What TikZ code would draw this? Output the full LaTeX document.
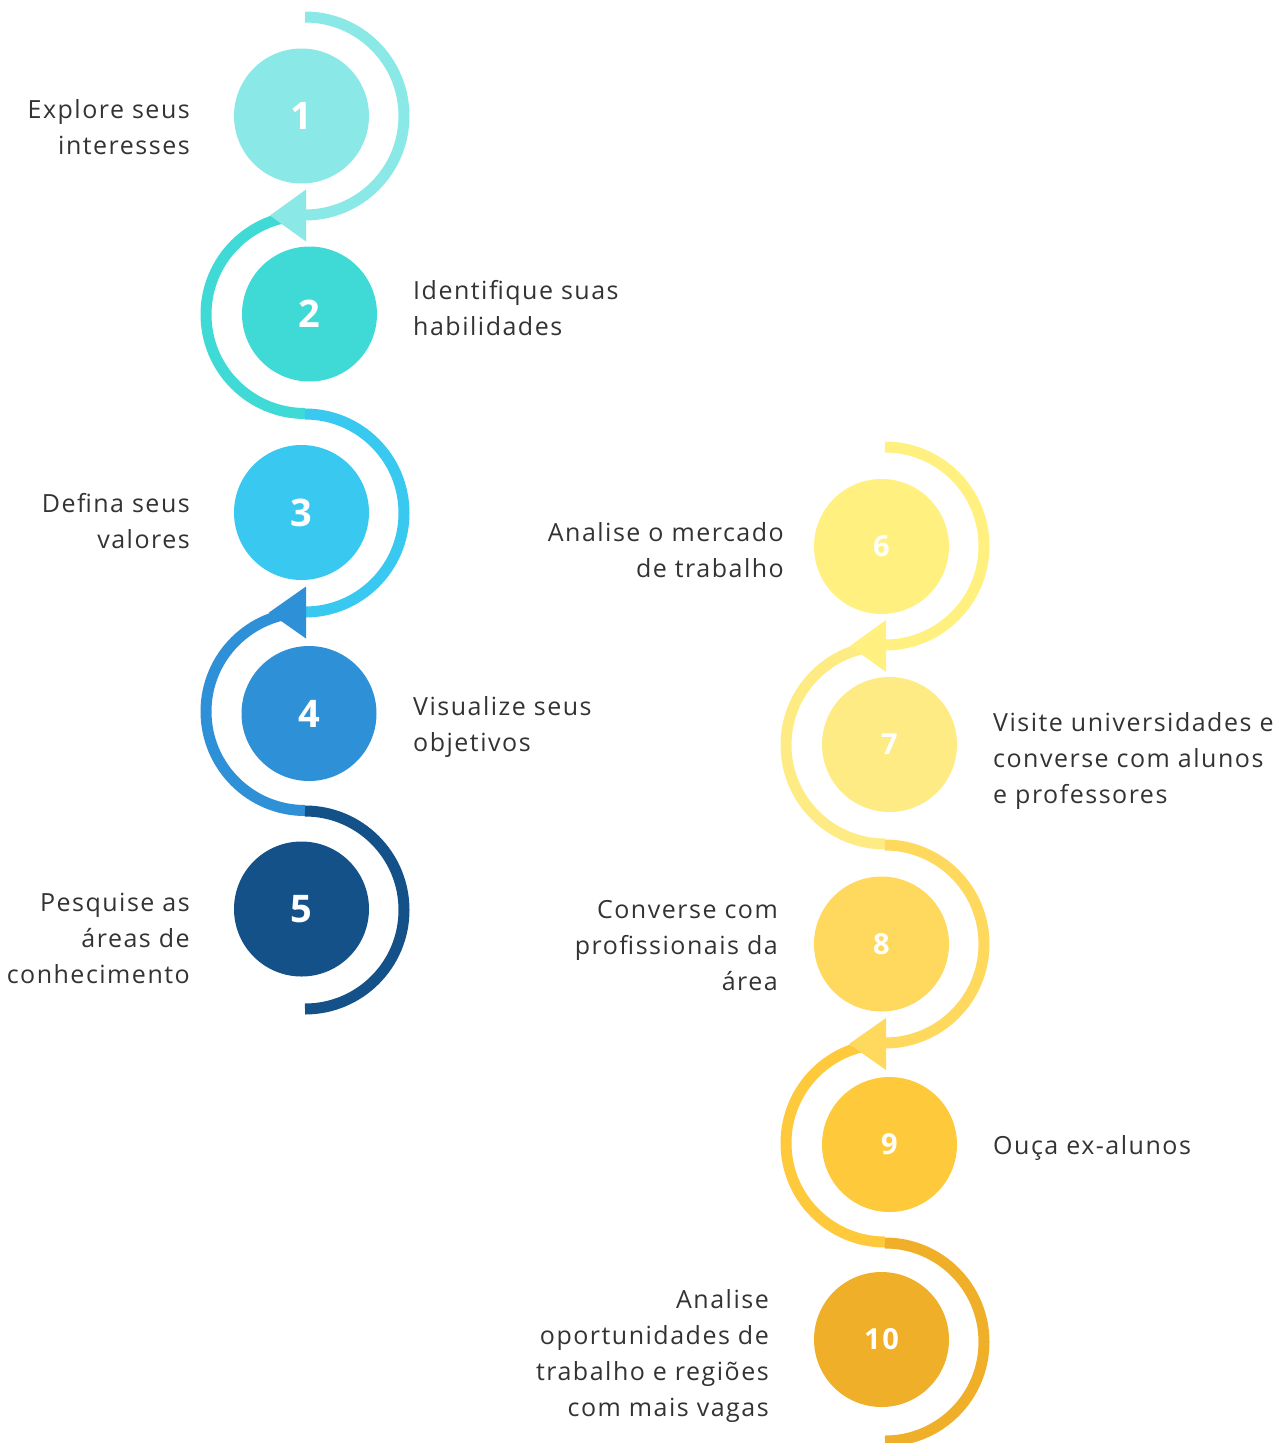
\documentclass[tikz,border=0pt]{standalone}
\usepackage{fontspec}
\setmainfont{Open Sans}[LetterSpace=6]
\usetikzlibrary{calc}
\definecolor{cA}{HTML}{8AE8E6}
\definecolor{cB}{HTML}{40DAD6}
\definecolor{cC}{HTML}{38C8F0}
\definecolor{cD}{HTML}{2E90D6}
\definecolor{cE}{HTML}{155189}
\definecolor{cF}{HTML}{FFF07F}
\definecolor{cG}{HTML}{FEEB84}
\definecolor{cH}{HTML}{FFD95E}
\definecolor{cI}{HTML}{FFC93C}
\definecolor{cJ}{HTML}{EFAF28}
\definecolor{ink}{HTML}{333333}

\begin{document}
\begin{tikzpicture}[x=1pt,y=-1pt,
    loopline/.style={line width=11pt},
    dot/.style={circle,minimum size=135pt,inner sep=0pt,text=white},
    bignum/.style={font=\fontsize{38}{38}\selectfont\bfseries},
    smallnum/.style={font=\fontsize{29}{29}\selectfont\bfseries},
    lbl/.style={font=\fontsize{25}{36}\selectfont,text=ink,inner sep=0pt}]
    \useasboundingbox (0,0) rectangle (1285,1443);
    % junctions of the left path
    \coordinate (j0) at (305,17);
    \coordinate (j1) at (305,215.5);
    \coordinate (j2) at (305,414);
    \coordinate (j3) at (305,612.5);
    \coordinate (j4) at (305,811);
    % junctions of the right path
    \coordinate (k0) at (885,447);
    \coordinate (k1) at (885,646);
    \coordinate (k2) at (885,845);
    \coordinate (k3) at (885,1044);
    \coordinate (k4) at (885,1243);
    % arcs round the circles
    \draw[loopline,cA] (j0) arc[start angle=90,end angle=-90,radius=99pt];
    \draw[loopline,cB] (j1) arc[start angle=90,end angle=270,radius=99pt];
    \draw[loopline,cC] (j2) arc[start angle=90,end angle=-90,radius=99pt];
    \draw[loopline,cD] (j3) arc[start angle=90,end angle=270,radius=99pt];
    \draw[loopline,cE] (j4) arc[start angle=90,end angle=-90,radius=99pt];
    \draw[loopline,cF] (k0) arc[start angle=90,end angle=-90,radius=99pt];
    \draw[loopline,cG] (k1) arc[start angle=90,end angle=270,radius=99pt];
    \draw[loopline,cH] (k2) arc[start angle=90,end angle=-90,radius=99pt];
    \draw[loopline,cI] (k3) arc[start angle=90,end angle=270,radius=99pt];
    \draw[loopline,cJ] (k4) arc[start angle=90,end angle=-90,radius=99pt];
    % arrow heads
    \fill[cA] ($(j1)+(1,-26)$) -- ($(j1)+(-35,0)$) -- ($(j1)+(1,26)$) -- cycle;
    \fill[cD] ($(j3)+(1,-26)$) -- ($(j3)+(-36,0)$) -- ($(j3)+(1,26)$) -- cycle;
    \fill[cF] ($(k1)+(1,-26)$) -- ($(k1)+(-35,0)$) -- ($(k1)+(1,26)$) -- cycle;
    \fill[cH] ($(k3)+(1,-26)$) -- ($(k3)+(-36,0)$) -- ($(k3)+(1,26)$) -- cycle;
    % circles
    \node[dot,bignum,fill=cA] (s1) at (301.5,116) {1};
    \node[dot,bignum,fill=cB] (s2) at (309.5,314) {2};
    \node[dot,bignum,fill=cC] (s3) at (301.5,512.5) {3};
    \node[dot,bignum,fill=cD] (s4) at (309,713.5) {4};
    \node[dot,bignum,fill=cE] (s5) at (301.5,909) {5};
    \node[dot,smallnum,fill=cF] (s6) at (881.5,546.5) {6};
    \node[dot,smallnum,fill=cG] (s7) at (889.5,744.5) {7};
    \node[dot,smallnum,fill=cH] (s8) at (881.5,944) {8};
    \node[dot,smallnum,fill=cI] (s9) at (889.5,1144.5) {9};
    \node[dot,smallnum,fill=cJ] (s10) at (881.5,1339.5) {10};
    % labels (base = last line)
    \node[lbl,anchor=base east,align=right] (t1) at (190,154) {Explore seus\\interesses};
    \node[lbl,anchor=base west,align=left] (t2) at (413,335) {Identifique suas\\habilidades};
    \node[lbl,anchor=base east,align=right] (t3) at (190,548) {Defina seus\\valores};
    \node[lbl,anchor=base west,align=left] (t4) at (413,751) {Visualize seus\\objetivos};
    \node[lbl,anchor=base east,align=right] (t5) at (190,983) {Pesquise as\\áreas de\\conhecimento};
    \node[lbl,anchor=base east,align=right] (t6) at (784,577) {Analise o mercado\\de trabalho};
    \node[lbl,anchor=base west,align=left] (t7) at (993,803) {Visite universidades e\\converse com alunos\\e professores};
    \node[lbl,anchor=base east,align=right] (t8) at (778,990) {Converse com\\profissionais da\\área};
    \node[lbl,anchor=base west,align=left] (t9) at (993,1154) {Ouça ex-alunos};
    \node[lbl,anchor=base east,align=right] (t10) at (769,1416) {Analise\\oportunidades de\\trabalho e regiões\\com mais vagas};
\end{tikzpicture}
\end{document}
